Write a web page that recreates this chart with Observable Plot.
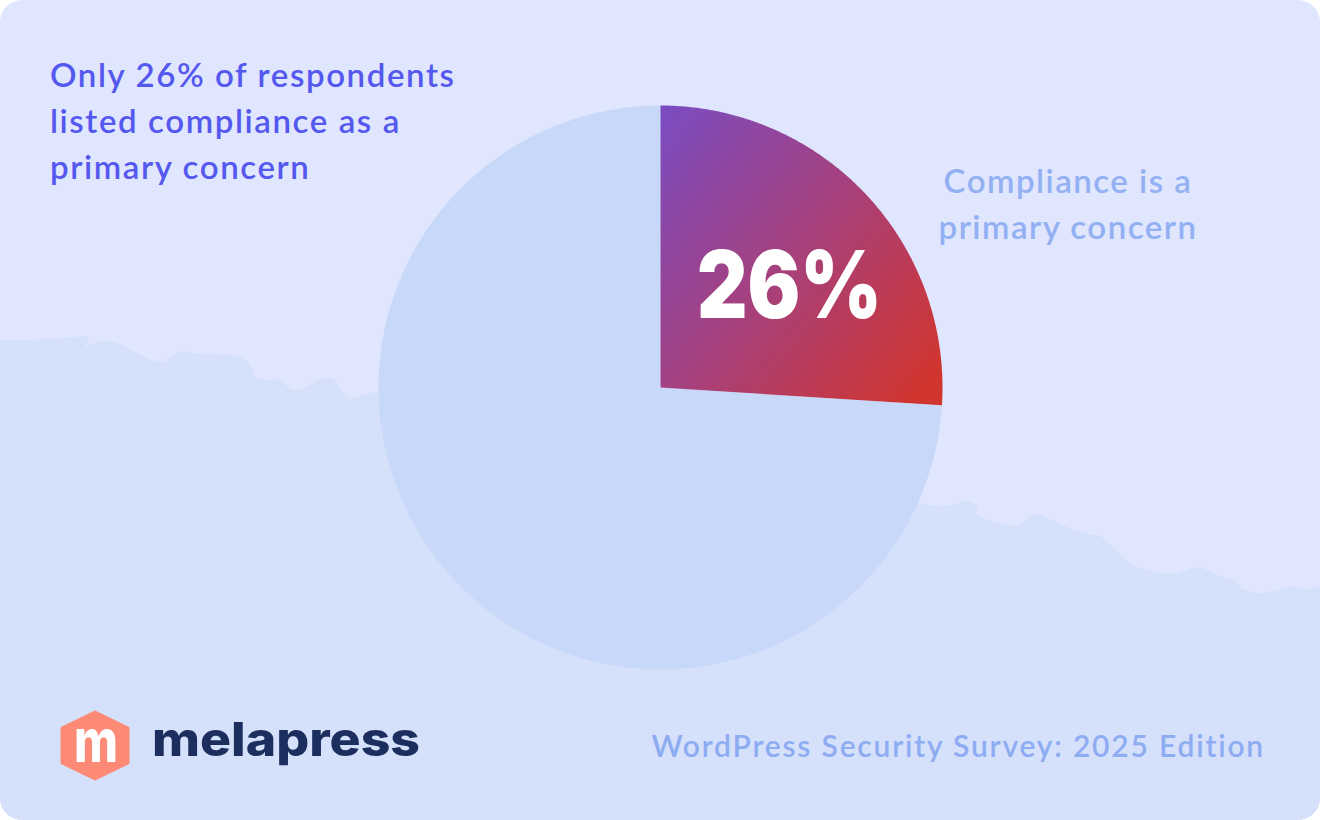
<!DOCTYPE html>
<html>
<head>
<meta charset="utf-8">
<script src="https://cdn.jsdelivr.net/npm/d3@7"></script>
<script src="https://cdn.jsdelivr.net/npm/@observablehq/plot@0.6"></script>
<style>
  html, body { margin: 0; padding: 0; background: #ffffff; }
  #card { position: relative; width: 1320px; height: 820px; border-radius: 22px; overflow: hidden; background: #dfe6fe; }
  #card svg { position: absolute; left: 0; top: 0; }
</style>
</head>
<body>
<div id="card"></div>
<script>
// ---- data ----
const categories = ["Compliance is a primary concern", "Not a primary concern"];
const values = [26, 74];
const headline = ["Only 26% of respondents", "listed compliance as a", "primary concern"];
const sliceLabel = ["Compliance is a", "primary concern"];
const valueLabel = "26%";
const brand = "melapress";
const footer = "WordPress Security Survey: 2025 Edition";

// ---- geometry via d3.pie (angles from values) ----
const W = 1320, H = 820, R = 282, CX = 660, CY = 387;
const arcs = d3.pie().sort(null).startAngle(0).endAngle(2 * Math.PI)(values);
function slicePoints(a, key) {
  const pts = [{x: 0, y: 0, key}];
  const n = 240;
  for (let i = 0; i <= n; i++) {
    const t = a.startAngle + (a.endAngle - a.startAngle) * i / n;
    pts.push({x: Math.sin(t), y: Math.cos(t), key});
  }
  pts.push({x: 0, y: 0, key});
  return pts;
}
const slices = arcs.map((a, i) => slicePoints(a, categories[i]));

const xHalf = (W / 2) / R;
const yMin = -(H - CY) / R, yMax = CY / R;

const svg = Plot.plot({
  width: W,
  height: H,
  margin: 0,
  style: {background: "transparent", overflow: "visible"},
  x: {domain: [-xHalf, xHalf], axis: null},
  y: {domain: [yMin, yMax], axis: null},
  marks: [
    Plot.line(slices[1], {x: "x", y: "y", fill: "#c8d8f9", stroke: "none", curve: "linear"}),
    Plot.line(slices[0], {x: "x", y: "y", fill: "url(#pieGrad)", stroke: "none", curve: "linear"})
  ]
});

const s = d3.select(svg);
// gradient
const defs = s.insert("defs", ":first-child");
const g = defs.append("linearGradient").attr("id", "pieGrad")
  .attr("x1", "0").attr("y1", "0").attr("x2", "1").attr("y2", "0.85");
g.append("stop").attr("offset", "0%").attr("stop-color", "#7a4cc2");
g.append("stop").attr("offset", "50%").attr("stop-color", "#a5417f");
g.append("stop").attr("offset", "100%").attr("stop-color", "#d03530");

// background wave (decoration)
s.insert("path", "defs + *")
  .attr("d", "M0,340 C30,341 60,338 88,336 C90,340 86,345 84,348 C92,345 100,338 112,342 C130,346 150,364 165,362 C172,356 178,348 190,352 C200,355 205,353 215,354 C235,355 250,358 252,368 C252,380 262,381 282,379 C286,386 290,392 300,390 C312,385 320,376 332,378 C340,382 343,400 352,399 C362,396 370,392 378,392 L918,503 C930,506 945,508 960,503 C966,499 970,500 977,505 C978,510 973,514 978,516 C990,521 1005,526 1017,526 C1025,520 1030,513 1040,515 C1055,520 1070,532 1100,536 C1115,545 1125,563 1140,568 C1155,572 1172,575 1180,573 C1190,568 1195,566 1205,569 C1215,573 1225,580 1236,580 C1237,588 1248,594 1265,593 C1280,590 1290,584 1305,589 C1310,591 1315,587 1320,586 L1320,820 L0,820 Z")
  .attr("fill", "#d5e0fb");

// texts
const font = "Lato, 'Noto Sans', sans-serif";
headline.forEach((t, i) => {
  s.append("text").attr("x", 50).attr("y", 87 + i * 46)
    .attr("text-anchor", "start")
    .attr("font-family", font).attr("font-weight", 600).attr("font-size", 33)
    .attr("letter-spacing", 1.6)
    .attr("fill", "#5558ef").text(t);
});
sliceLabel.forEach((t, i) => {
  s.append("text").attr("x", 1068).attr("y", 193 + i * 46)
    .attr("text-anchor", "middle")
    .attr("font-family", font).attr("font-weight", 600).attr("font-size", 33)
    .attr("letter-spacing", 1.5)
    .attr("fill", "#93b0f3").text(t);
});
s.append("text").attr("x", 697).attr("y", 318).attr("text-anchor", "start")
  .attr("font-family", "Inter, sans-serif").attr("font-weight", 900).attr("font-size", 93)
  .attr("textLength", 185).attr("lengthAdjust", "spacingAndGlyphs")
  .attr("fill", "#ffffff").text(valueLabel);
s.append("text").attr("x", 1265).attr("y", 757).attr("text-anchor", "end")
  .attr("font-family", font).attr("font-weight", 600).attr("font-size", 30)
  .attr("letter-spacing", 1.8)
  .attr("fill", "#8eacf2").text(footer);

// logo
s.append("polygon").attr("points", "95,712 128,728 128,763 95,779 62,763 62,728")
  .attr("fill", "#fd8a76").attr("stroke", "#fd8a76").attr("stroke-width", 3).attr("stroke-linejoin", "round");
s.append("text").attr("x", 74).attr("y", 762).attr("text-anchor", "start")
  .attr("font-family", "Inter, sans-serif").attr("font-weight", 800).attr("font-size", 60)
  .attr("textLength", 44).attr("lengthAdjust", "spacingAndGlyphs")
  .attr("fill", "#ffffff").text("m");
s.append("text").attr("x", 152).attr("y", 756).attr("text-anchor", "start")
  .attr("font-family", "Inter, sans-serif").attr("font-weight", 800).attr("font-size", 47)
  .attr("textLength", 268).attr("lengthAdjust", "spacingAndGlyphs")
  .attr("fill", "#1b2e5e").text(brand);

document.getElementById("card").appendChild(svg);
</script>
</body>
</html>
